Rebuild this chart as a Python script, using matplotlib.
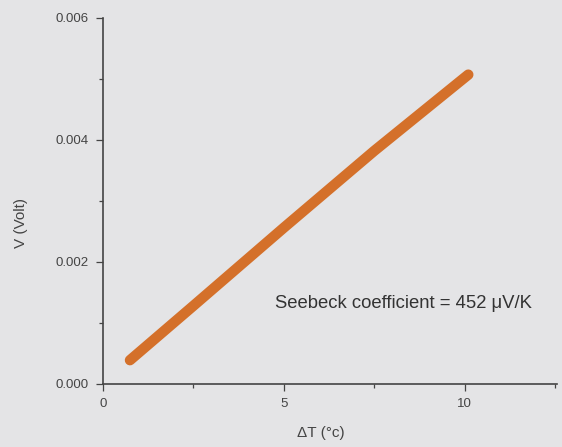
import matplotlib.pyplot as plt
from matplotlib.ticker import MultipleLocator

plt.rcParams['font.family'] = ['Liberation Sans', 'DejaVu Sans']

# points
dT = [0.75, 2.5, 5.0, 7.5, 10.1]
V = [0.00039, 0.00128, 0.00256, 0.00382, 0.00507]

x_ticks = [0, 5, 10]
y_ticks = [0.000, 0.002, 0.004, 0.006]

bg = '#e4e4e6'
ink = '#444444'

fig = plt.figure(figsize=(5.62, 4.47), dpi=100, facecolor=bg)
ax = fig.add_axes([0.183, 0.141, 0.808, 0.819], facecolor=bg)

ax.plot(dT, V, color='#d4702a', linewidth=7.5, solid_capstyle='round')

ax.set_xlim(0, 12.55)
ax.set_ylim(0, 0.006)
ax.set_xticks(x_ticks)
ax.set_yticks(y_ticks)
ax.set_yticklabels([f'{v:.3f}' for v in y_ticks])
ax.xaxis.set_minor_locator(MultipleLocator(2.5))
ax.yaxis.set_minor_locator(MultipleLocator(0.001))
ax.tick_params(which='both', direction='out', colors=ink, labelsize=9.5, width=0.9)
ax.tick_params(which='major', length=5, pad=5)
ax.tick_params(which='minor', length=3)

for s in ['top', 'right']:
    ax.spines[s].set_visible(False)
for s in ['left', 'bottom']:
    ax.spines[s].set_color(ink)
    ax.spines[s].set_linewidth(1.2)

ax.set_xlabel('ΔT (°c)', fontsize=11, color=ink)
ax.xaxis.set_label_coords(0.48, -0.115)
ax.set_ylabel('V (Volt)', fontsize=11, color=ink)
ax.yaxis.set_label_coords(-0.165, 0.44)

ax.text(4.75, 0.00125, 'Seebeck coefficient = 452 μV/K', fontsize=13.3, color='#333333')

fig.savefig('out.png', dpi=100, facecolor=bg)
